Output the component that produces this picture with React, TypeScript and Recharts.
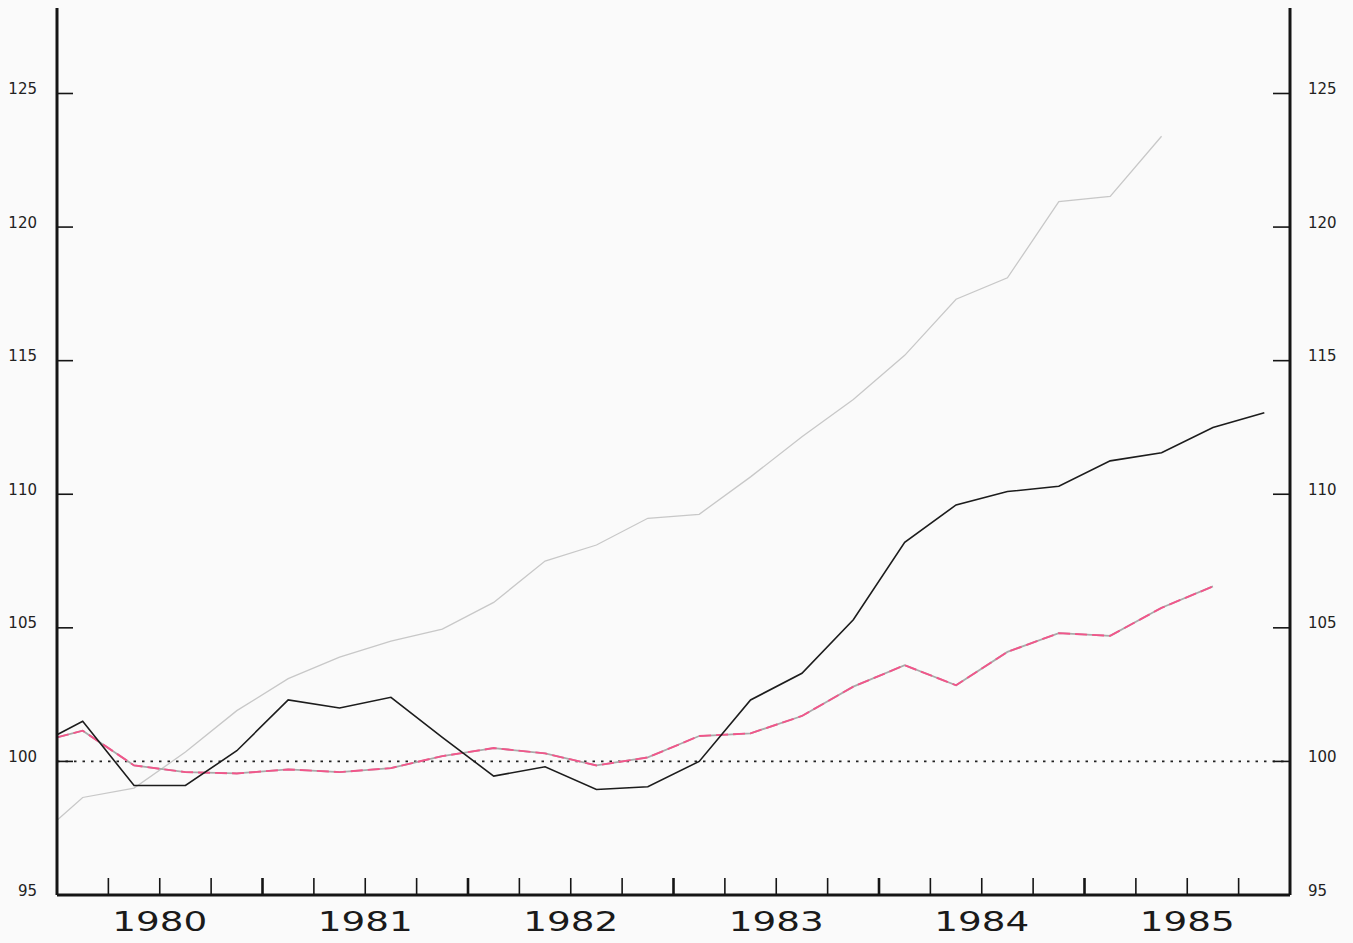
import React from 'react';
import { LineChart, Line, XAxis, YAxis, ReferenceLine } from 'recharts';

// quarter positions (0 = start of 1980, 24 = end of 1985); points sit mid-quarter
const quarterPos = [0, 0.5, 1.5, 2.5, 3.5, 4.5, 5.5, 6.5, 7.5, 8.5, 9.5, 10.5, 11.5, 12.5, 13.5, 14.5, 15.5, 16.5, 17.5, 18.5, 19.5, 20.5, 21.5, 22.5, 23.5];

const blackSeries = [101.0, 101.5, 99.1, 99.1, 100.4, 102.3, 102.0, 102.4, 100.9, 99.45, 99.8, 98.95, 99.05, 100.0, 102.3, 103.3, 105.3, 108.2, 109.6, 110.1, 110.3, 111.25, 111.55, 112.5, 113.05];
const pinkSeries = [100.9, 101.15, 99.85, 99.6, 99.55, 99.7, 99.6, 99.75, 100.2, 100.5, 100.3, 99.85, 100.15, 100.95, 101.05, 101.7, 102.8, 103.6, 102.85, 104.1, 104.8, 104.7, 105.75, 106.55, null];
const greySeries = [97.8, 98.65, 99.0, 100.35, 101.9, 103.1, 103.9, 104.5, 104.95, 105.95, 107.5, 108.1, 109.1, 109.25, 110.65, 112.15, 113.55, 115.2, 117.3, 118.1, 120.95, 121.15, 123.4, null, null];

const yearLabels = ['1980', '1981', '1982', '1983', '1984', '1985'];
const quarterTicks = [0, 1, 2, 3, 4, 5, 6, 7, 8, 9, 10, 11, 12, 13, 14, 15, 16, 17, 18, 19, 20, 21, 22, 23, 24];
const valueTicks = [95, 100, 105, 110, 115, 120, 125];

const data = quarterPos.map((t, i) => ({
  t,
  black: blackSeries[i],
  pink: pinkSeries[i],
  grey: greySeries[i],
}));

const INK = '#151515';

function LeftTick({ x, y, payload }: any) {
  return (
    <g>
      <line x1={x} x2={x + 16} y1={y} y2={y} stroke={INK} strokeWidth={1.6} />
      <text x={x - 20} y={y - 4} textAnchor="end" dominantBaseline="middle" fontSize={15} fontFamily="DejaVu Sans" fill="#222">
        {payload.value}
      </text>
    </g>
  );
}

function RightTick({ x, y, payload }: any) {
  return (
    <g>
      <line x1={x - 17} x2={x} y1={y} y2={y} stroke={INK} strokeWidth={1.6} />
      <text x={x + 18} y={y - 4} textAnchor="start" dominantBaseline="middle" fontSize={15} fontFamily="DejaVu Sans" fill="#222">
        {payload.value}
      </text>
    </g>
  );
}

function BottomTick({ x, y, payload }: any) {
  const t = payload.value;
  const inner = t > 0 && t < 24;
  const major = t % 4 === 0;
  const label = t % 4 === 2 ? yearLabels[(t - 2) / 4] : null;
  return (
    <g>
      {inner && (
        <line x1={x} x2={x} y1={y - 17} y2={y} stroke={INK} strokeWidth={major ? 2.6 : 1.6} />
      )}
      {label && (
        <text
          x={x}
          y={y + 36}
          textAnchor="middle"
          fontSize={27}
          fontWeight={400}
          fontFamily="DejaVu Sans"
          fill="#1a1a1a"
          textLength={95}
          lengthAdjust="spacingAndGlyphs"
        >
          {label}
        </text>
      )}
    </g>
  );
}

export default function App() {
  return (
    <div style={{ position: 'absolute', left: 0, top: 0, width: 1353, height: 943, background: '#fafafa' }}>
      <LineChart width={1353} height={943} data={data} margin={{ top: 8, right: 0, bottom: 0, left: 0 }}>
        <XAxis
          dataKey="t"
          type="number"
          domain={[0, 24]}
          ticks={quarterTicks}
          interval={0}
          height={48}
          tickSize={0}
          tickMargin={0}
          tickLine={false}
          axisLine={{ stroke: INK, strokeWidth: 3 }}
          tick={<BottomTick />}
        />
        <YAxis
          yAxisId="left"
          type="number"
          domain={[95, 128.2]}
          allowDataOverflow
          ticks={valueTicks}
          interval={0}
          width={57}
          tickSize={0}
          tickMargin={0}
          tickLine={false}
          axisLine={{ stroke: INK, strokeWidth: 3 }}
          tick={<LeftTick />}
        />
        <YAxis
          yAxisId="right"
          orientation="right"
          type="number"
          domain={[95, 128.2]}
          allowDataOverflow
          ticks={valueTicks}
          interval={0}
          width={63}
          tickSize={0}
          tickMargin={0}
          tickLine={false}
          axisLine={{ stroke: INK, strokeWidth: 3 }}
          tick={<RightTick />}
        />
        <ReferenceLine yAxisId="left" y={100} stroke="#222" strokeWidth={1.6} strokeDasharray="2.5 6" />
        <Line yAxisId="left" dataKey="grey" type="linear" stroke="#c8c8c8" strokeWidth={1.3} dot={false} activeDot={false} isAnimationActive={false} />
        <Line yAxisId="left" dataKey="pink" type="linear" stroke="#a9a9a9" strokeWidth={1.8} dot={false} activeDot={false} isAnimationActive={false} />
        <Line yAxisId="left" dataKey="pink" type="linear" stroke="#f2558a" strokeWidth={1.9} strokeDasharray="12 5" dot={false} activeDot={false} isAnimationActive={false} />
        <Line yAxisId="left" dataKey="black" type="linear" stroke="#1c1c1c" strokeWidth={1.6} dot={false} activeDot={false} isAnimationActive={false} />
      </LineChart>
    </div>
  );
}
